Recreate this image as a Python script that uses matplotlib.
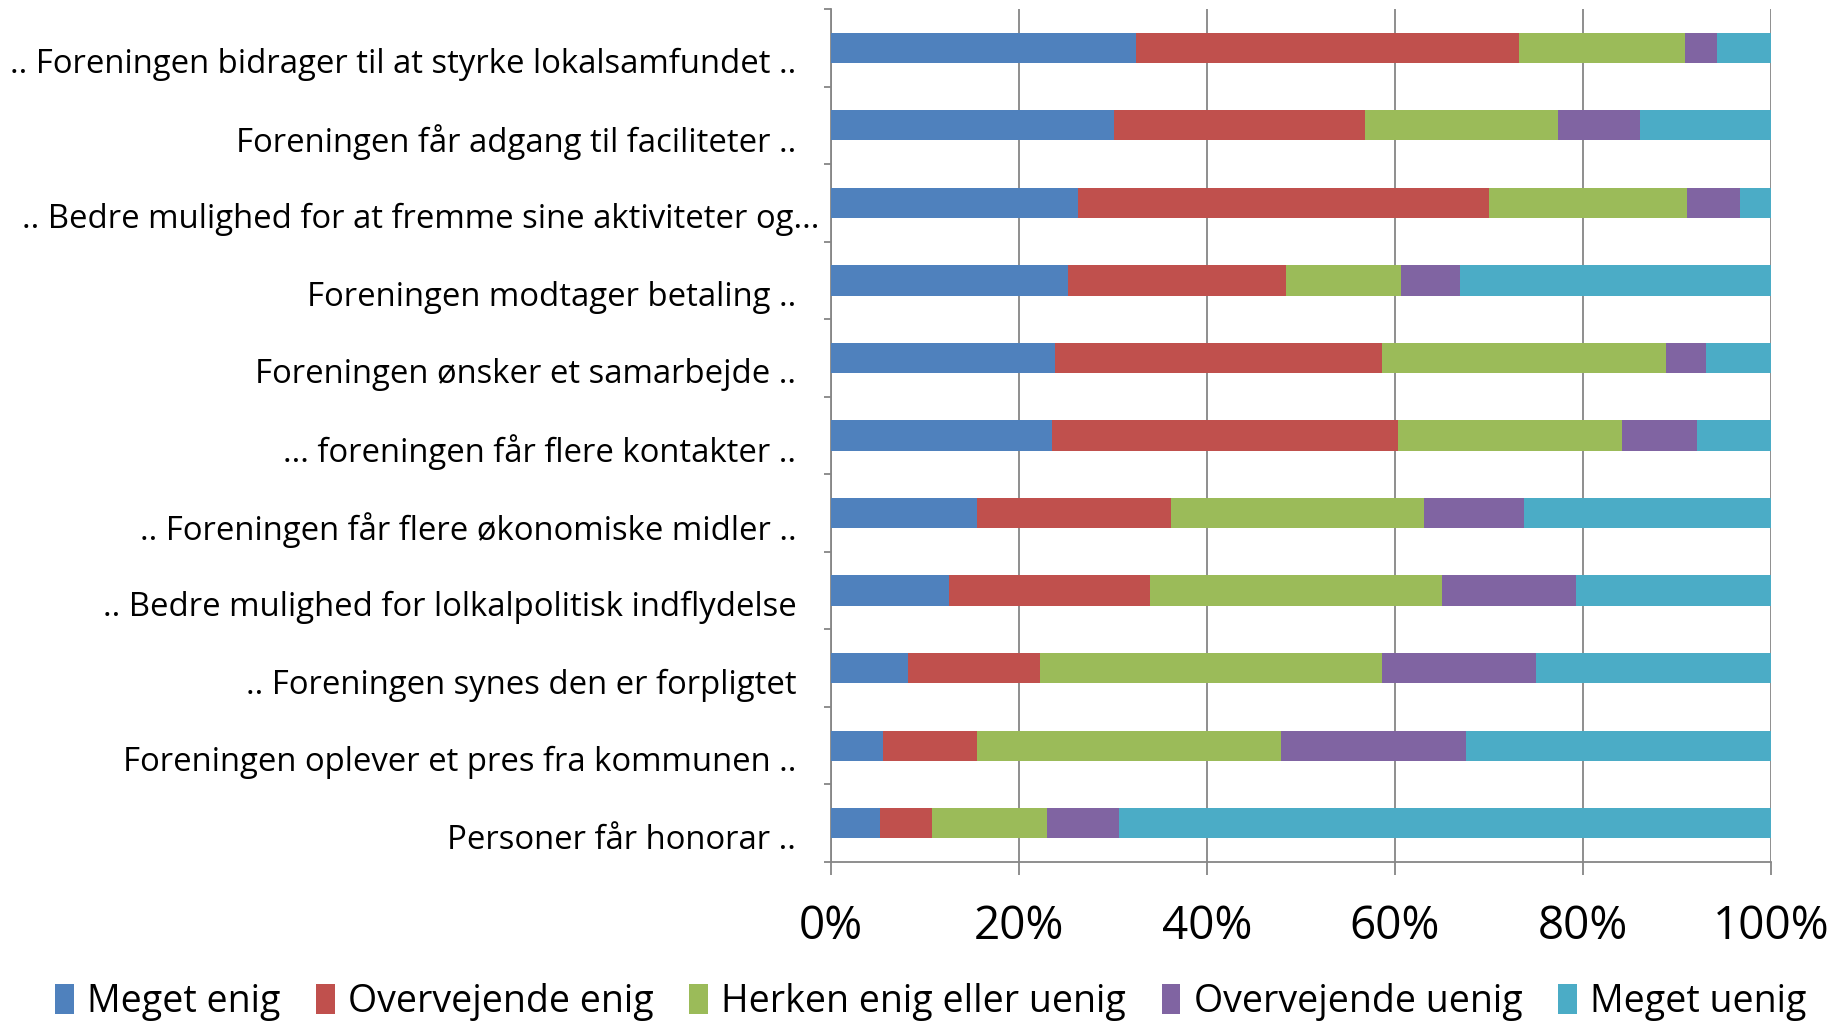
import matplotlib
matplotlib.use("Agg")
import matplotlib.pyplot as plt
from matplotlib import font_manager
from matplotlib.patches import Patch
import matplotlib.transforms as mtransforms
import numpy as np

categories = [
    ".. Foreningen bidrager til at styrke lokalsamfundet ..",
    "Foreningen får adgang til faciliteter ..",
    ".. Bedre mulighed for at fremme sine aktiviteter og...",
    "Foreningen modtager betaling ..",
    "Foreningen ønsker et samarbejde ..",
    "... foreningen får flere kontakter ..",
    ".. Foreningen får flere økonomiske midler ..",
    ".. Bedre mulighed for lolkalpolitisk indflydelse",
    ".. Foreningen synes den er forpligtet",
    "Foreningen oplever et pres fra kommunen ..",
    "Personer får honorar ..",
]
series_names = ["Meget enig", "Overvejende enig", "Herken enig eller uenig",
                "Overvejende uenig", "Meget uenig"]
meget_enig = [32.4, 30.1, 26.3, 25.2, 23.8, 23.5, 15.5, 12.5, 8.2, 5.5, 5.2]
overvejende_enig = [40.8, 26.7, 43.7, 23.2, 34.8, 36.8, 20.7, 21.4, 14.0, 10.0, 5.5]
herken = [17.7, 20.5, 21.1, 12.2, 30.2, 23.8, 26.9, 31.1, 36.4, 32.4, 12.3]
overvejende_uenig = [3.4, 8.8, 5.6, 6.3, 4.3, 8.0, 10.6, 14.3, 16.4, 19.6, 7.6]
meget_uenig = [5.7, 13.9, 3.3, 33.1, 6.9, 7.9, 26.3, 20.7, 25.0, 32.5, 69.4]
x_ticks = [0, 20, 40, 60, 80, 100]
x_tick_labels = ["0%", "20%", "40%", "60%", "80%", "100%"]

colors = ["#4F81BD", "#C0504D", "#9BBB59", "#8064A2", "#4BACC6"]

available = {f.name for f in font_manager.fontManager.ttflist}
def pick(*names):
    for n in names:
        if n in available:
            return n
    return "DejaVu Sans"
narrow = pick("Liberation Sans Narrow", "Open Sans", "Lato")
plt.rcParams["font.family"] = [narrow, "DejaVu Sans"]

W, H = 1843, 1028
fig = plt.figure(figsize=(W / 100, H / 100), dpi=100)
ax = fig.add_axes([831 / W, 1 - 862 / H, (1771 - 831) / W, (862 - 9) / H])

data = np.array([meget_enig, overvejende_enig, herken, overvejende_uenig, meget_uenig])
data = data / data.sum(axis=0) * 100
y = np.arange(len(categories))
left = np.zeros(len(categories))
for vals, name, c in zip(data, series_names, colors):
    ax.barh(y, vals, left=left, height=0.39, color=c, label=name, zorder=3)
    left += vals

grid_c = "#868686"
ax.set_xlim(0, 100)
ax.set_ylim(len(categories) - 0.5, -0.5)
ax.set_xticks(x_ticks)
ax.set_xticklabels(x_tick_labels, fontsize=33)
ax.xaxis.grid(True, color=grid_c, linewidth=1.3, zorder=0)
ax.set_axisbelow(True)

ax.set_yticks(y)
ax.set_yticklabels(categories, fontsize=23.7)
ax.set_yticks(np.arange(-0.5, len(categories)), minor=True)
ax.tick_params(axis="y", which="major", length=0, pad=25)
ax.tick_params(axis="y", which="minor", length=5, width=1.3, color=grid_c, direction="out")
ax.tick_params(axis="x", which="major", length=9, width=1.3, color=grid_c, direction="out", pad=21)

# category labels sit slightly below bar centres; third one runs past the others
for i, lbl in enumerate(ax.get_yticklabels()):
    dx = 23 / 100 if i == 2 else 0
    lbl.set_transform(lbl.get_transform() +
                      mtransforms.ScaledTranslation(dx, -13 / 100, fig.dpi_scale_trans))

for s in ["top", "right"]:
    ax.spines[s].set_visible(False)
for s in ["left", "bottom"]:
    ax.spines[s].set_color(grid_c)
    ax.spines[s].set_linewidth(1.3)

handles = [Patch(facecolor=c, edgecolor="none") for c in colors]
fig.legend(handles, series_names, loc="center", bbox_to_anchor=(0.505, 0.025),
           ncol=5, frameon=False, fontsize=27, handlelength=0.5, handleheight=0.85,
           handletextpad=0.35, columnspacing=0.95, borderaxespad=0, borderpad=0)

fig.savefig("out.png", dpi=100)
